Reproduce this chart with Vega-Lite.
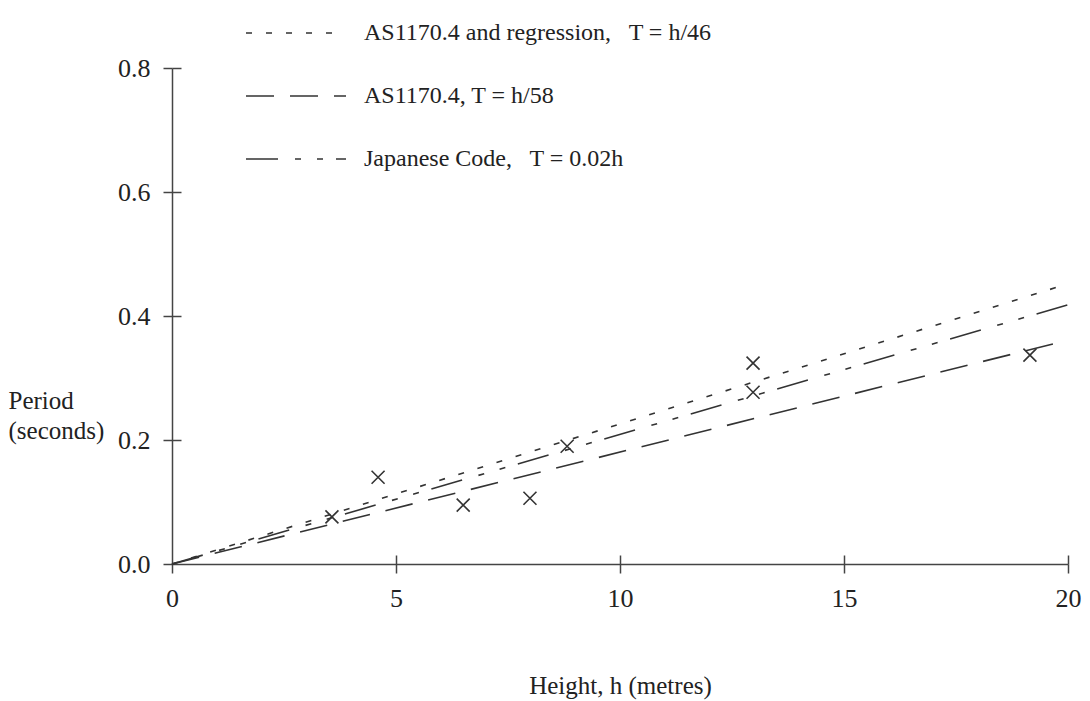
{
  "$schema": "https://vega.github.io/schema/vega-lite/v6.json",
  "width": 896,
  "height": 496,
  "autosize": {"type": "none"},
  "padding": {"left": 172, "top": 68, "right": 22, "bottom": 137},
  "background": "white",
  "config": {
    "view": {"stroke": null},
    "font": "Liberation Serif",
    "axis": {
      "grid": false,
      "domainColor": "#444",
      "domainWidth": 1.5,
      "tickColor": "#444",
      "tickWidth": 1.5,
      "tickSize": 9,
      "labelFont": "Liberation Serif",
      "labelFontSize": 26,
      "labelColor": "#222",
      "labelFlush": false,
      "labelOverlap": false,
      "titleFont": "Liberation Serif",
      "titleFontSize": 25,
      "titleFontWeight": "normal",
      "titleColor": "#222"
    },
    "legend": {
      "labelFont": "Liberation Serif",
      "labelFontSize": 24,
      "labelColor": "#222",
      "labelLimit": 0
    }
  },
  "datasets": {
    "lines": [
      {"series": "AS1170.4 and regression,\u00a0\u00a0 T = h/46", "h": 0, "T": 0},
      {"series": "AS1170.4 and regression,\u00a0\u00a0 T = h/46", "h": 20, "T": 0.452},
      {"series": "AS1170.4, T = h/58", "h": 0, "T": 0},
      {"series": "AS1170.4, T = h/58", "h": 20, "T": 0.361},
      {"series": "Japanese Code,\u00a0\u00a0 T = 0.02h", "h": 0, "T": 0},
      {"series": "Japanese Code,\u00a0\u00a0 T = 0.02h", "h": 20, "T": 0.418}
    ],
    "obs": [
      {"h": 3.57, "T": 0.076},
      {"h": 4.6, "T": 0.14},
      {"h": 6.5, "T": 0.095},
      {"h": 7.99, "T": 0.106},
      {"h": 8.82, "T": 0.19},
      {"h": 12.97, "T": 0.324},
      {"h": 12.97, "T": 0.277},
      {"h": 19.15, "T": 0.337}
    ]
  },
  "layer": [
    {
      "data": {"name": "lines"},
      "mark": {"type": "line", "strokeWidth": 1.6, "color": "#333"},
      "encoding": {
        "x": {
          "field": "h", "type": "quantitative",
          "scale": {"domain": [0, 20], "nice": false, "zero": true},
          "axis": {
            "orient": "bottom",
            "values": [0, 5, 10, 15, 20],
            "labelPadding": 12,
            "title": "Height, h (metres)",
            "titleY": 121,
            "titleBaseline": "middle"
          }
        },
        "y": {
          "field": "T", "type": "quantitative",
          "scale": {"domain": [0, 0.8], "nice": false},
          "axis": {
            "orient": "left",
            "values": [0, 0.2, 0.4, 0.6, 0.8],
            "format": ".1f",
            "labelPadding": 13,
            "title": ["Period", "(seconds)"],
            "titleAngle": 0,
            "titleAlign": "left",
            "titleBaseline": "middle",
            "titleX": -164,
            "titleY": 332,
            "titleLineHeight": 30
          }
        },
        "strokeDash": {
          "field": "series", "type": "nominal",
          "scale": {
            "domain": ["AS1170.4 and regression,\u00a0\u00a0 T = h/46", "AS1170.4, T = h/58", "Japanese Code,\u00a0\u00a0 T = 0.02h"],
            "range": [[6, 14], [28, 16], [32, 17, 6, 16, 6, 13]]
          },
          "legend": {
            "orient": "none",
            "legendX": 73,
            "legendY": -86,
            "title": null,
            "symbolType": "stroke",
            "symbolSize": 10000,
            "symbolStrokeWidth": 1.6,
            "symbolStrokeColor": "#333",
            "labelOffset": 17,
            "rowPadding": -3
          }
        }
      }
    },
    {
      "data": {"name": "obs"},
      "mark": {"type": "point", "shape": "M-1,-1L1,1M-1,1L1,-1", "size": 169, "filled": false, "strokeWidth": 1.6, "color": "#333", "opacity": 1},
      "encoding": {
        "x": {
          "field": "h", "type": "quantitative",
          "axis": {"orient": "bottom", "values": [5, 10, 15, 20], "tickSize": -9, "labels": false, "domain": false, "title": null}
        },
        "y": {
          "field": "T", "type": "quantitative",
          "axis": {"orient": "left", "values": [0.2, 0.4, 0.6, 0.8], "tickSize": -9, "labels": false, "domain": false, "title": null}
        }
      }
    }
  ],
  "resolve": {"axis": {"x": "independent", "y": "independent"}}
}
